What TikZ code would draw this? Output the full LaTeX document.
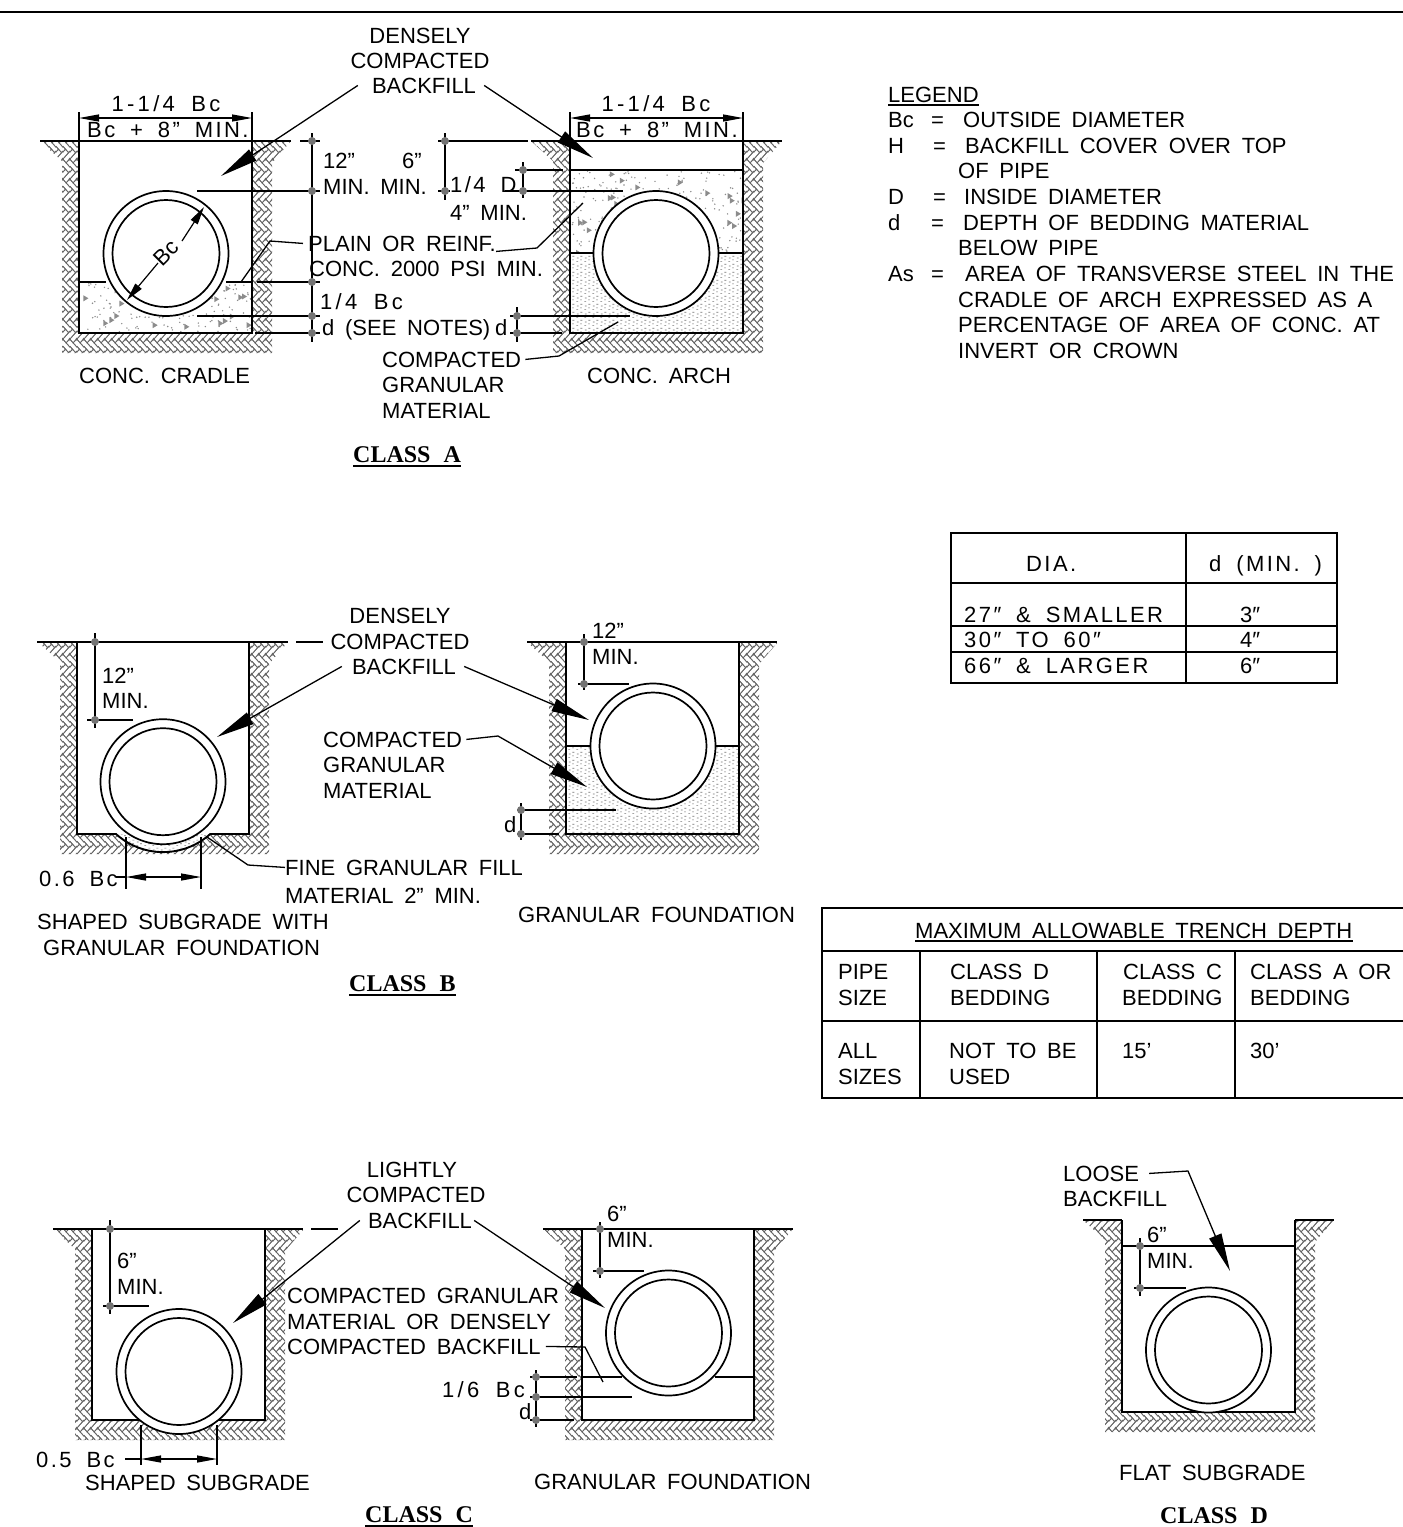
\documentclass[tikz,border=0pt]{standalone}
\usepackage{fontspec}
\setmainfont[WordSpace=1.75]{Liberation Sans}
\newfontfamily\classfont[WordSpace=2.2]{Liberation Serif}
\usetikzlibrary{arrows.meta,patterns}

\newcommand{\brk}[4]{\pgfpathmoveto{\pgfpointxy{#1}{#2}}\pgfpathlineto{\pgfpointxy{#1+#3}{#2}}\pgfpathlineto{\pgfpointxy{#1+#3}{#2+#4}}\pgfpathlineto{\pgfpointxy{#1}{#2+#4}}\pgfpathclose\pgfusepath{stroke}}
\pgfdeclarepatternformonly{herring}{\pgfqpoint{0pt}{0pt}}{\pgfqpoint{7.071pt}{19.799pt}}{\pgfqpoint{7.071pt}{19.799pt}}{
 \pgfsetlinewidth{.8pt}
 \pgfsetxvec{\pgfqpoint{.7071pt}{.7071pt}}
 \pgfsetyvec{\pgfqpoint{.7071pt}{-.7071pt}}
 \foreach \i in {-2,...,2}{\foreach \j in {-1,...,1}{
  \pgfmathsetmacro\cu{\i*5+\j*14}
  \pgfmathsetmacro\cv{\i*5-\j*14}
  \brk{\cu}{\cv}{14}{5}
  \brk{\cu+14}{\cv-9}{5}{14}
 }}
}
\pgfdeclarepatternformonly{sand}{\pgfqpoint{0pt}{0pt}}{\pgfqpoint{8pt}{8pt}}{\pgfqpoint{8pt}{8pt}}{
 \pgfsetlinewidth{.7pt}
 \pgfpathmoveto{\pgfqpoint{.5pt}{1.5pt}}\pgfpathlineto{\pgfqpoint{2.5pt}{1.5pt}}
 \pgfpathmoveto{\pgfqpoint{4.5pt}{3.5pt}}\pgfpathlineto{\pgfqpoint{6.5pt}{3.5pt}}
 \pgfpathmoveto{\pgfqpoint{1pt}{5.5pt}}\pgfpathlineto{\pgfqpoint{3pt}{5.5pt}}
 \pgfpathmoveto{\pgfqpoint{5pt}{7.5pt}}\pgfpathlineto{\pgfqpoint{7pt}{7.5pt}}
 \pgfusepath{stroke}
}

\tikzset{every node/.style={inner sep=0pt,anchor=base west,font=\fontsize{22}{26}\selectfont},
         mid/.style={anchor=base},
         wide/.style={font=\fontsize{22}{26}\selectfont\addfontfeature{LetterSpace=11}},
         wider/.style={font=\fontsize{22}{26}\selectfont\addfontfeature{LetterSpace=15}},
         classname/.style={font=\classfont\bfseries\fontsize{24}{28}\selectfont},
         wall/.style={line width=1.9pt},
         rule/.style={line width=1.3pt},
         pipeline/.style={line width=1.7pt},
         dimline/.style={line width=1.2pt},
         pt/.style={fill=black!55},
         stip/.style={fill=black!45},
         earthfill/.style={pattern=herring,pattern color=black!60},
         sandfill/.style={pattern=sand,pattern color=black!55},
         lead/.style={line width=1.3pt,-{Triangle[length=38pt,width=13pt]}},
         plainlead/.style={line width=1.3pt},
         span/.style={line width=1.2pt,{Triangle[length=20pt,width=7pt]}-{Triangle[length=20pt,width=7pt]}},
         bcarrow/.style={line width=1.2pt,-{Triangle[length=18pt,width=8pt]}}}

\newcommand{\earth}[4]{\fill[earthfill] (#1-39,#3) -- (#1,#3) -- (#1,#4) -- (#2,#4) -- (#2,#3) -- (#2+39,#3) -- (#2+20,#3+22) -- (#2+20,#4+20) -- (#1-17,#4+20) -- (#1-17,#3+20) -- cycle;}
\newcommand{\walls}[4]{\draw[wall] (#1,#3) -- (#1,#4) -- (#2,#4) -- (#2,#3);}
\newcommand{\drawpipe}[2]{\fill[white] (#1,#2) circle[radius=62.5];
 \draw[pipeline] (#1,#2) circle[radius=62.5];
 \draw[pipeline] (#1,#2) circle[radius=53.5];}
\newcommand{\conc}[5]{\begin{scope}
 \clip (#1,#2) rectangle (#3,#4);
 \foreach \k in {1,...,#5}{
  \pgfmathsetmacro\stx{#1+mod(rnd*83+rnd*41,1)*(#3-#1)}
  \pgfmathsetmacro\sty{#2+mod(rnd*97+rnd*31,1)*(#4-#2)}
  \pgfmathtruncatemacro\tk{mod(\k,7)}
  \ifnum\tk=0 \fill[stip] (\stx,\sty) -- ++(5,3) -- ++(-5,3) -- cycle;
  \else \fill[stip] (\stx,\sty) circle[radius=.8]; \fi
 }
 \end{scope}}

\begin{document}
\begin{tikzpicture}[x=1pt,y=-1pt]
\useasboundingbox (0,0) rectangle (1403,1527);
\pgfmathsetseed{7}
\draw[wall] (0,12) -- (1403,12);

% class A, cradle
\earth{79}{252}{141}{333}
\conc{80}{283}{251}{332}{170}
\walls{79}{252}{141}{333}
\drawpipe{166}{253.5}
\draw[wall] (40,141) -- (291,141);
\draw[dimline] (300,141) -- (320,141);
\draw[wall] (79,282) -- (106,282);
\draw[wall] (226,282) -- (252,282);
\draw[dimline] (79,112) -- (79,141);
\draw[dimline] (252,112) -- (252,141);
\draw[span] (79,118) -- (252,118);
\node (aw1) [mid,wider] at (166,111) {1-1/4 Bc};
\node (aw2) [wide] at (87,137) {Bc + 8” MIN.};
\draw[dimline] (312,133) -- (312,342);
\draw[dimline] (197,191) -- (320,191);
\draw[dimline] (257,282) -- (320,282);
\draw[dimline] (197,316) -- (320,316);
\draw[dimline] (255,333) -- (320,333);
\foreach \yy in {141,191,282,316,333} \fill[pt] (312,\yy) circle[radius=4];
\node (a12) at (323,168) {12”};
\node (a6) at (402,168) {6”};
\node (amin) at (323,194) {MIN. MIN.};
\node (aq) [wider] at (320,309) {1/4 Bc};
\node (asee) at (322,335) {d (SEE NOTES)};
\node (ad) at (495,335) {d};
\node (abc) [anchor=center,rotate=45] at (166,253) {Bc};
\draw[bcarrow] (182,241) -- (204,207);
\draw[bcarrow] (158,263) -- (127,300);
\node (acr) at (79,383) {CONC. CRADLE};

% class A, arch
\earth{570}{743}{141}{333}
\conc{571}{171}{742}{253}{260}
\fill[sandfill] (571,254) rectangle (742,332);
\walls{570}{743}{141}{333}
\drawpipe{656}{253.5}
\draw[wall] (531,141) -- (782,141);
\draw[wall] (570,170) -- (743,170);
\draw[wall] (570,253) -- (594,253);
\draw[wall] (718,253) -- (743,253);
\draw[dimline] (570,112) -- (570,141);
\draw[dimline] (743,112) -- (743,141);
\draw[span] (570,118) -- (743,118);
\node (bw1) [mid,wider] at (656,111) {1-1/4 Bc};
\node (bw2) [wide] at (576,137) {Bc + 8” MIN.};
\draw[dimline] (445,133) -- (445,200);
\draw[dimline] (438,141) -- (528,141);
\draw[dimline] (438,191) -- (450,191);
\draw[dimline] (523,162) -- (523,198);
\draw[dimline] (515,170) -- (563,170);
\draw[dimline] (505,191) -- (623,191);
\draw[dimline] (517,307) -- (517,342);
\draw[dimline] (510,316) -- (630,316);
\draw[dimline] (510,333) -- (562,333);
\foreach \xx/\yy in {445/141,445/191,523/170,523/191,517/316,517/333} \fill[pt] (\xx,\yy) circle[radius=4];
\node (bq) [wide] at (450,192) {1/4 D};
\node (b4) at (450,220) {4” MIN.};
\node (bar) at (587,383) {CONC. ARCH};

% class A, labels
\node (den1) [mid] at (420,43) {DENSELY};
\node (den2) [mid] at (420,68) {COMPACTED};
\node (den3) [mid] at (424,93) {BACKFILL};
\coordinate (denL) at (221,176);
\coordinate (denR) at (593,158);
\draw[lead] ([xshift=-14pt]den3.west) -- (denL);
\draw[lead] ([xshift=8pt]den3.east) -- (denR);
\node (pl1) at (308,251) {PLAIN OR REINF.};
\node (pl2) at (309,276) {CONC. 2000 PSI MIN.};
\draw[plainlead] ([xshift=-5pt]pl1.west) -- (270,241) -- (241,282);
\draw[plainlead] (pl1.south east) -- (537,248) -- (583,203);
\node (cg1) at (382,367) {COMPACTED};
\node (cg2) at (382,392) {GRANULAR};
\node (cg3) at (382,418) {MATERIAL};
\draw[plainlead] ([xshift=4pt]cg1.east) -- (559,356) -- (618,322);
\node (cA) [classname] at (353,462) {CLASS A};
\draw[rule] ([yshift=-4pt]cA.base west) -- ([yshift=-4pt]cA.base east);

% legend
\node (lg) at (888,102) {LEGEND};
\draw[rule] ([yshift=-3pt]lg.base west) -- ([yshift=-3pt]lg.base east);
\node (l1k) at (888,127) {Bc};
\node (l1e) at (931,127) {=};
\node (l1t) at (963,127) {OUTSIDE DIAMETER};
\node (l2k) at (888,153) {H};
\node (l2e) at (933,153) {=};
\node (l2t) at (965,153) {BACKFILL COVER OVER TOP};
\node (l2u) at (958,178) {OF PIPE};
\node (l3k) at (888,204) {D};
\node (l3e) at (933,204) {=};
\node (l3t) at (964,204) {INSIDE DIAMETER};
\node (l4k) at (888,230) {d};
\node (l4e) at (931,230) {=};
\node (l4t) at (963,230) {DEPTH OF BEDDING MATERIAL};
\node (l4u) at (958,255) {BELOW PIPE};
\node (l5k) at (888,281) {As};
\node (l5e) at (931,281) {=};
\node (l5t) at (965,281) {AREA OF TRANSVERSE STEEL IN THE};
\node (l5u) at (958,307) {CRADLE OF ARCH EXPRESSED AS A};
\node (l5v) at (958,332) {PERCENTAGE OF AREA OF CONC. AT};
\node (l5w) at (958,358) {INVERT OR CROWN};

% table of d
\draw[wall] (951,533) rectangle (1337,683);
\draw[wall] (1186,533) -- (1186,683);
\draw[wall] (951,583) -- (1337,583);
\draw[wall] (951,626) -- (1337,626);
\draw[wall] (951,652) -- (1337,652);
\node (td1) [wide] at (1026,571) {DIA.};
\node (td2) [wide] at (1209,571) {d (MIN. )};
\node (td3) [wide] at (964,622) {27″ \& SMALLER};
\node (td4) at (1240,622) {3″};
\node (td5) [wide] at (964,647) {30″ TO 60″};
\node (td6) at (1240,647) {4″};
\node (td7) [wide] at (964,673) {66″ \& LARGER};
\node (td8) at (1240,673) {6″};

% table of depths
\draw[wall] (1403,908) -- (822,908) -- (822,1098) -- (1403,1098);
\draw[wall] (822,951) -- (1403,951);
\draw[wall] (822,1021) -- (1403,1021);
\draw[wall] (920,951) -- (920,1098);
\draw[wall] (1097,951) -- (1097,1098);
\draw[wall] (1235,951) -- (1235,1098);
\node (tm) at (915,938) {MAXIMUM ALLOWABLE TRENCH DEPTH};
\draw[rule] ([yshift=-3pt]tm.base west) -- ([yshift=-3pt]tm.base east);
\node (tp1) at (838,979) {PIPE};
\node (tp2) at (838,1005) {SIZE};
\node (tc1) at (950,979) {CLASS D};
\node (tc2) at (950,1005) {BEDDING};
\node (tc3) at (1123,979) {CLASS C};
\node (tc4) at (1122,1005) {BEDDING};
\node (tc5) at (1250,979) {CLASS A OR};
\node (tc6) at (1250,1005) {BEDDING};
\node (ta1) at (838,1058) {ALL};
\node (ta2) at (838,1084) {SIZES};
\node (ta3) at (949,1058) {NOT TO BE};
\node (ta4) at (949,1084) {USED};
\node (ta5) at (1122,1058) {15’};
\node (ta6) at (1250,1058) {30’};

% class B, shaped subgrade
\earth{77}{249}{642}{834}
\fill[white] (116,834) arc[start angle=132,end angle=48,radius=70.4] -- cycle;
\fill[sandfill] (116,834) arc[start angle=132,end angle=48,radius=70.4] -- cycle;
\drawpipe{163}{781.7}
\draw[wall] (77,642) -- (77,834) -- (116,834) arc[start angle=132,end angle=48,radius=70.4] -- (249,834) -- (249,642);
\draw[wall] (37,642) -- (288,642);
\draw[dimline] (296,642) -- (323,642);
\draw[dimline] (95,633) -- (95,728);
\draw[dimline] (87,720) -- (133,720);
\foreach \yy in {642,720} \fill[pt] (95,\yy) circle[radius=4];
\node (c12) at (102,683) {12”};
\node (cmin) at (102,708) {MIN.};
\draw[dimline] (126,837) -- (126,889);
\draw[dimline] (201,837) -- (201,889);
\draw[dimline] (116,877) -- (126,877);
\draw[span] (126,877) -- (201,877);
\node (c06) [wide] at (39,886) {0.6 Bc};
\node (fg1) at (285,875) {FINE GRANULAR FILL};
\node (fg2) at (285,903) {MATERIAL 2” MIN.};
\draw[plainlead] (fg1.west) -- (248,865) -- (207,837);
\node (ss1) at (37,929) {SHAPED SUBGRADE WITH};
\node (ss2) at (43,955) {GRANULAR FOUNDATION};

% class B, granular foundation
\earth{566}{739}{642}{834}
\fill[sandfill] (567,747) rectangle (738,833);
\walls{566}{739}{642}{834}
\drawpipe{653}{746}
\draw[wall] (527,642) -- (777,642);
\draw[wall] (566,746) -- (590,746);
\draw[wall] (715,746) -- (739,746);
\draw[dimline] (584,634) -- (584,690);
\draw[dimline] (578,684) -- (629,684);
\foreach \yy in {642,684} \fill[pt] (584,\yy) circle[radius=4];
\node (d12) at (592,638) {12”};
\node (dmin) at (592,664) {MIN.};
\draw[dimline] (521,803) -- (521,840);
\draw[dimline] (517,810) -- (616,810);
\draw[dimline] (517,834) -- (559,834);
\foreach \yy in {810,834} \fill[pt] (521,\yy) circle[radius=4];
\node (dd) at (504,832) {d};
\node (dgf) at (518,922) {GRANULAR FOUNDATION};

% class B, labels
\node (dn1) [mid] at (400,623) {DENSELY};
\node (dn2) [mid] at (400,649) {COMPACTED};
\node (dn3) [mid] at (404,674) {BACKFILL};
\coordinate (dnL) at (217,737);
\coordinate (dnR) at (589,720);
\draw[lead] ([xshift=-10pt]dn3.west) -- (dnL);
\draw[lead] ([xshift=8pt]dn3.east) -- (dnR);
\node (gm1) at (323,747) {COMPACTED};
\node (gm2) at (323,772) {GRANULAR};
\node (gm3) at (323,798) {MATERIAL};
\coordinate (gmT) at (587,787);
\draw[lead] ([xshift=4pt]gm1.east) -- (498,736) -- (gmT);
\node (cB) [classname] at (349,991) {CLASS B};
\draw[rule] ([yshift=-4pt]cB.base west) -- ([yshift=-4pt]cB.base east);

% class C, shaped subgrade
\earth{92}{265}{1229}{1420}
\walls{92}{265}{1229}{1420}
\drawpipe{179}{1371.5}
\draw[wall] (53,1229) -- (303,1229);
\draw[dimline] (311,1229) -- (338,1229);
\draw[dimline] (110,1220) -- (110,1314);
\draw[dimline] (103,1306) -- (149,1306);
\foreach \yy in {1229,1306} \fill[pt] (110,\yy) circle[radius=4];
\node (e6) at (117,1268) {6”};
\node (emin) at (117,1294) {MIN.};
\draw[dimline] (141,1425) -- (141,1465);
\draw[dimline] (217,1425) -- (217,1465);
\draw[dimline] (125,1459) -- (141,1459);
\draw[span] (141,1459) -- (217,1459);
\node (e05) [wide] at (36,1467) {0.5 Bc};
\node (ess) at (85,1490) {SHAPED SUBGRADE};

% class C, granular foundation
\earth{582}{754}{1229}{1420}
\walls{582}{754}{1229}{1420}
\drawpipe{668.5}{1333}
\draw[wall] (543,1229) -- (793,1229);
\draw[wall] (582,1377) -- (622,1377);
\draw[wall] (715,1377) -- (754,1377);
\draw[dimline] (600,1222) -- (600,1278);
\draw[dimline] (593,1271) -- (644,1271);
\foreach \yy in {1229,1271} \fill[pt] (600,\yy) circle[radius=4];
\node (f6) at (607,1221) {6”};
\node (fmin) at (607,1247) {MIN.};
\draw[dimline] (536,1370) -- (536,1427);
\draw[dimline] (530,1377) -- (577,1377);
\draw[dimline] (530,1397) -- (632,1397);
\draw[dimline] (530,1420) -- (574,1420);
\foreach \yy in {1377,1397,1420} \fill[pt] (536,\yy) circle[radius=4];
\node (f16) [wider] at (442,1397) {1/6 Bc};
\node (fd) at (519,1419) {d};
\node (fgf) at (534,1489) {GRANULAR FOUNDATION};

% class C, labels
\node (lt1) [mid] at (412,1177) {LIGHTLY};
\node (lt2) [mid] at (416,1202) {COMPACTED};
\node (lt3) [mid] at (420,1228) {BACKFILL};
\coordinate (ltL) at (233,1323);
\coordinate (ltR) at (605,1308);
\draw[lead] ([xshift=-8pt]lt3.west) -- (ltL);
\draw[lead] ([xshift=2pt]lt3.east) -- (ltR);
\node (cb1) at (287,1303) {COMPACTED GRANULAR};
\node (cb2) at (287,1329) {MATERIAL OR DENSELY};
\node (cb3) at (287,1354) {COMPACTED BACKFILL};
\draw[plainlead] ([xshift=5pt]cb3.east) -- (585,1347) -- (603,1382);
\node (cC) [classname] at (365,1522) {CLASS C};
\draw[rule] ([yshift=-4pt]cC.base west) -- ([yshift=-4pt]cC.base east);

% class D
\earth{1122}{1295}{1220}{1412}
\walls{1122}{1295}{1220}{1412}
\drawpipe{1208.5}{1350}
\draw[wall] (1083,1220) -- (1122,1220);
\draw[wall] (1295,1220) -- (1334,1220);
\draw[wall] (1122,1246) -- (1295,1246);
\draw[dimline] (1140,1238) -- (1140,1296);
\draw[dimline] (1134,1288) -- (1186,1288);
\foreach \yy in {1246,1288} \fill[pt] (1140,\yy) circle[radius=4];
\node (g6) at (1147,1242) {6”};
\node (gmin) at (1147,1268) {MIN.};
\node (lo1) at (1063,1181) {LOOSE};
\node (lo2) at (1063,1206) {BACKFILL};
\coordinate (loT) at (1230,1271);
\draw[lead] ([xshift=10pt]lo1.east) -- (1188,1171) -- (loT);
\node (gfl) at (1119,1480) {FLAT SUBGRADE};
\node (cD) [classname] at (1160,1523) {CLASS D};
\end{tikzpicture}
\end{document}
